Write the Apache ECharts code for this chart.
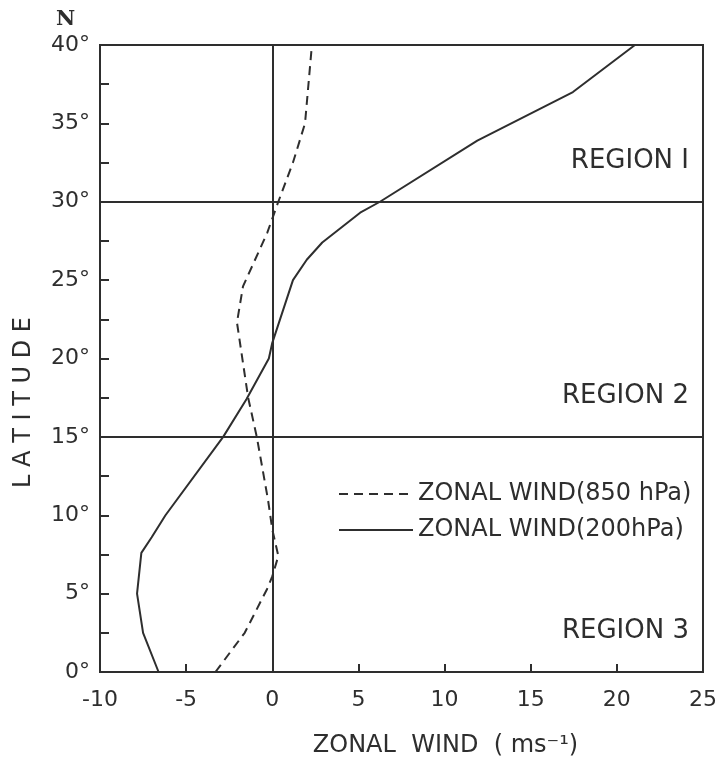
<!DOCTYPE html>
<html>
<head>
<meta charset="utf-8">
<script src="https://cdn.jsdelivr.net/npm/echarts@6/dist/echarts.min.js"></script>
<style>
  html, body { margin: 0; padding: 0; background: #fff; }
  #main { width: 720px; height: 763px; }
</style>
</head>
<body>
<div id="main"></div>
<script>
// latitude profiles of zonal wind
const lat200 = [0, 2.5, 5, 7.6, 8.6, 10, 15, 17.4, 20, 21, 25, 26.3, 27.4, 29.3, 30, 33.9, 37, 40]
const wind200 = [-6.6, -7.5, -7.85, -7.6, -7.0, -6.2, -2.85, -1.5, -0.2, 0, 1.2, 2.0, 2.9, 5.1, 6.25, 11.9, 17.45, 21.05]

const lat850 = [0, 2.5, 5.3, 6.1, 7.4, 9.1, 11, 15, 17.5, 22.3, 24.6, 26.3, 28, 30, 32.5, 35, 40]
const wind850 = [-3.3, -1.6, -0.3, 0, 0.35, 0, -0.25, -0.9, -1.4, -2.05, -1.7, -1.0, -0.3, 0.35, 1.2, 1.9, 2.3]

const regionLines = [30, 15, 0]
const regionNames = ['REGION I', 'REGION 2', 'REGION 3']

const ink = '#2e2e2e'
const font = 'DejaVu Sans'

const chart = echarts.init(document.getElementById('main'))

const pairs = (xs, ys) => xs.map((x, i) => [x, ys[i]])

chart.setOption({
  backgroundColor: '#fff',
  animation: false,
  grid: {
    left: 100, right: 17, top: 45, bottom: 91,
    show: true, borderColor: ink, borderWidth: 2
  },
  xAxis: {
    type: 'value', min: -10, max: 25, interval: 5,
    name: 'ZONAL  WIND  ( ms⁻¹)', nameLocation: 'middle', nameGap: 62,
    nameTextStyle: { color: ink, fontFamily: font, fontSize: 24, padding: [0, 0, 0, 88] },
    axisLine: { show: true, onZero: false, lineStyle: { color: ink, width: 2 } },
    axisTick: { show: true, inside: true, length: 8, lineStyle: { color: ink, width: 2 } },
    axisLabel: { color: ink, fontFamily: font, fontSize: 22, margin: 17 },
    splitLine: { show: false }
  },
  yAxis: {
    type: 'value', min: 0, max: 40, interval: 5,
    name: 'L A T I T U D E', nameLocation: 'middle', nameGap: 64, nameRotate: 90,
    nameTextStyle: { color: ink, fontFamily: font, fontSize: 24, padding: [0, 88, 0, 0] },
    axisLine: { show: true, onZero: false, lineStyle: { color: ink, width: 2 } },
    axisTick: { show: true, inside: true, length: 9, lineStyle: { color: ink, width: 2 } },
    minorTick: { show: true, splitNumber: 2, length: 9, lineStyle: { color: ink, width: 2 } },
    axisLabel: { color: ink, fontFamily: font, fontSize: 22, margin: 10, formatter: v => v + '°' },
    splitLine: { show: false }
  },
  legend: {
    orient: 'vertical', left: 333, top: 477,
    itemWidth: 74, itemHeight: 12, itemGap: 12,
    itemStyle: { opacity: 0 },
    textStyle: { color: ink, fontFamily: font, fontSize: 24 },
    data: ['ZONAL WIND(850 hPa)', 'ZONAL WIND(200hPa)']
  },
  graphic: [{
    type: 'text', left: 56, top: 9,
    style: { text: 'N', fill: ink, font: 'bold 21px "DejaVu Serif"' }
  }],
  series: [
    {
      name: 'ZONAL WIND(850 hPa)', type: 'line', symbol: 'none',
      data: pairs(wind850, lat850),
      lineStyle: { color: ink, width: 2, type: [9, 6] },
      itemStyle: { color: ink }
    },
    {
      name: 'ZONAL WIND(200hPa)', type: 'line', symbol: 'none',
      data: pairs(wind200, lat200),
      lineStyle: { color: ink, width: 2 },
      itemStyle: { color: ink },
      markLine: {
        silent: true, symbol: 'none',
        lineStyle: { color: ink, width: 2, type: 'solid' },
        label: {
          position: 'insideEndTop', distance: [14, 28],
          color: ink, fontFamily: font, fontSize: 26
        },
        data: [{ xAxis: 0, label: { show: false } }].concat(
          regionLines.map((y, i) => ({ yAxis: y, label: { formatter: regionNames[i] } }))
        )
      }
    }
  ]
})
</script>
</body>
</html>
